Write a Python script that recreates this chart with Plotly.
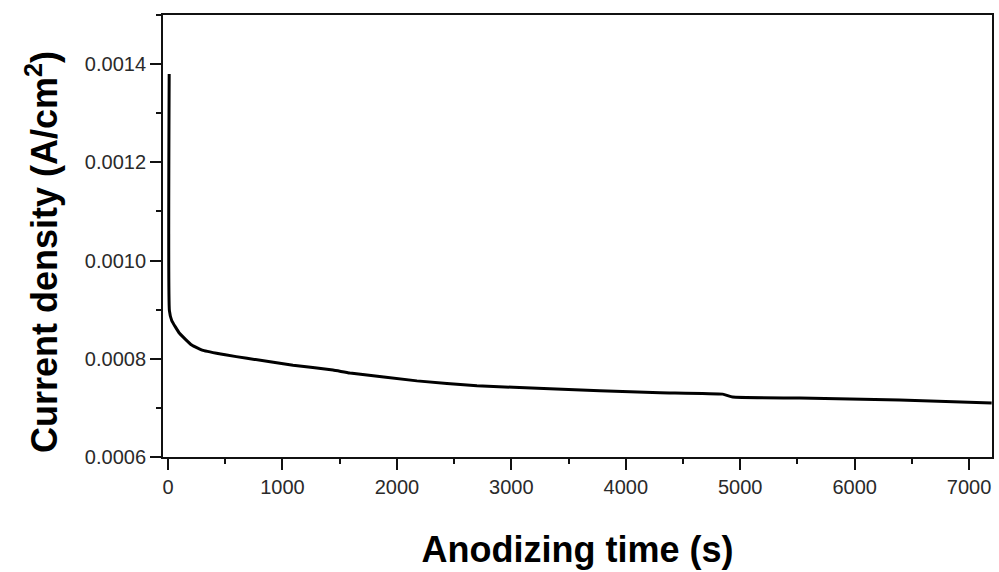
import plotly.graph_objects as go

# Data
time_s = [10, 12, 32, 100, 207, 306, 500, 690, 1092, 1441, 1590, 2175, 2699,
          3336, 3773, 4300, 4847, 4934, 5520, 6393, 7197]
current = [0.00138, 0.000898, 0.000878, 0.000852, 0.000828, 0.000817, 0.000808,
           0.000801, 0.000787, 0.000777, 0.000771, 0.000755, 0.000745, 0.000739,
           0.000735, 0.000731, 0.000728, 0.000722, 0.00072, 0.000716, 0.00071]

x_ticks = [0, 1000, 2000, 3000, 4000, 5000, 6000, 7000]
y_ticks = [0.0006, 0.0008, 0.0010, 0.0012, 0.0014]

FONT = "Liberation Sans, Arial, Helvetica, sans-serif"

fig = go.Figure()
fig.add_trace(go.Scatter(x=time_s, y=current, mode="lines", line_shape="spline",
                         line=dict(color="black", width=3, smoothing=0.4), showlegend=False))

axis_common = dict(
    showline=True, linecolor="#111", linewidth=2, mirror=True,
    ticks="outside", ticklen=11, tickwidth=2, tickcolor="#111",
    showgrid=False, zeroline=False,
    tickfont=dict(family=FONT, size=20, color="#2a2a2a"),
)

fig.update_xaxes(
    range=[-44, 7200], tickvals=x_ticks, ticktext=[str(v) for v in x_ticks],
    minor=dict(ticks="outside", ticklen=5, tickwidth=2, tickcolor="#111", dtick=500, tick0=0),
    title=dict(text="<b>Anodizing time (s)</b>", font=dict(family=FONT, size=36, color="black"), standoff=40),
    **axis_common,
)
fig.update_yaxes(
    range=[0.0006, 0.0015], tickvals=y_ticks, ticktext=[f"{v:.4f}" for v in y_ticks],
    minor=dict(ticks="outside", ticklen=5, tickwidth=2, tickcolor="#111", dtick=0.0001, tick0=0.0006),
    **axis_common,
)

fig.add_annotation(
    text="<b>Current density (A/cm<sup>2</sup>)</b>",
    xref="paper", yref="paper", x=0, y=0.5, xanchor="center", yanchor="middle",
    xshift=-121, yshift=-16, textangle=-90, showarrow=False,
    font=dict(family=FONT, size=36, color="black"),
)

fig.update_layout(
    width=999, height=572,
    margin=dict(l=163, r=7, t=15, b=115, autoexpand=False),
    paper_bgcolor="white", plot_bgcolor="white",
    font=dict(family=FONT),
)

fig.write_html("out.html")
